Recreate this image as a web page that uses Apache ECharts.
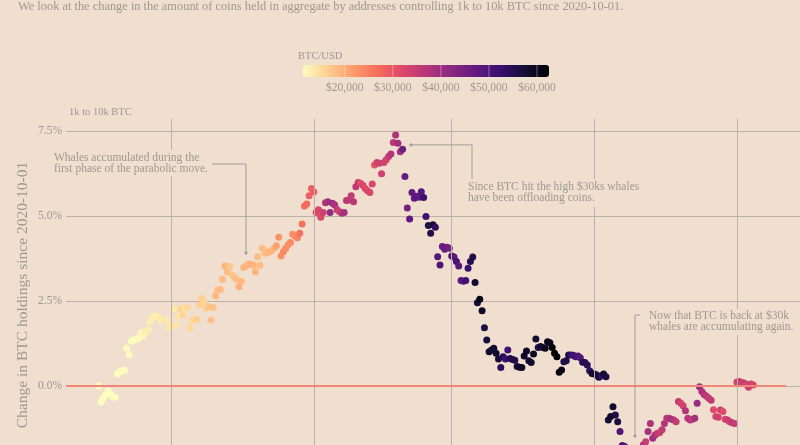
<!DOCTYPE html>
<html>
<head>
<meta charset="utf-8">
<script src="https://cdn.jsdelivr.net/npm/echarts@6/dist/echarts.min.js"></script>
<style>
html,body{margin:0;padding:0;background:#f0dfcf;}
#c{width:800px;height:445px;}
</style>
</head>
<body>
<div id="c"></div>
<script>
// ---- data (one value per day starting 2020-10-01) ----
const startDate = '2020-10-01';
// change in BTC held by 1k-10k BTC addresses, % since 2020-10-01
const holdings = [
 0.00,-0.47,-0.35,-0.26,-0.15,-0.22,-0.31,-0.33, 0.35, 0.42, 0.45, 0.46, 1.11, 0.92, 1.32, 1.35, 1.37, 1.40, 1.55, 1.47,
 1.59, 1.65, 1.89, 2.02, 2.05, 2.06, 1.99, 1.95, 1.94, 1.94, 1.73, 1.74, 2.27, 1.79, 2.06, 2.27, 2.09, 2.27, 2.31, 1.71,
 1.94, 1.95, 1.96, 2.38, 2.58, 2.48, 2.29, 2.33, 1.94, 2.31, 2.65, 2.82, 2.84, 3.14, 3.53, 3.36, 3.51, 3.26, 3.20, 3.12,
 2.92, 3.07, 3.48, 3.53, 3.59, 3.58, 3.56, 3.36, 3.80, 3.55, 4.05, 3.90, 3.92, 3.95, 3.98, 4.05, 4.12, 4.37, 3.82, 3.95,
 4.05, 4.15, 4.22, 4.46, 4.41, 4.36, 4.49, 4.76, 5.29, 5.35, 5.59, 5.81, 5.71, 5.10, 5.18, 4.96, 5.10, 5.39, 5.42, 5.10,
 5.37, 5.32, 5.18, 5.12, 5.08, 5.10, 5.45, 5.47, 5.59, 5.42, 5.86, 5.98, 5.96, 5.90, 5.81, 5.74, 5.69, 5.94, 6.50, 6.57,
 6.55, 6.24, 6.57, 6.65, 6.75, 6.82, 7.16, 7.38, 7.14, 6.89, 6.96, 6.16, 5.23, 4.91, 5.69, 5.52, 5.58, 5.55, 5.71, 5.54,
 4.98, 4.72, 4.49, 4.74, 4.67, 3.80, 3.56, 4.10, 4.02, 4.08, 4.05, 3.82, 3.79, 3.66, 3.53, 3.10, 3.08, 3.10, 3.46, 3.66,
 3.79, 3.04, 2.45, 2.55, 2.21, 1.71, 1.35, 1.01, 1.06, 1.11, 0.96, 0.79, 0.54, 0.86, 0.79, 1.06, 0.81, 0.78, 0.76, 0.57,
 0.55, 0.54, 0.88, 1.03, 0.74, 0.69, 0.94, 1.38, 1.13, 1.16, 1.13, 1.11, 1.30, 1.27, 1.13, 0.96, 0.86, 0.40, 0.47, 0.71,
 0.74, 0.91, 0.91, 0.90, 0.86, 0.88, 0.83, 0.70, 0.69, 0.62, 0.45, 0.37, 0.35, 0.32, 0.26, 0.30, 0.35, 0.27,-1.00,-0.90,
-0.61,-0.85,-1.05,-1.34,-1.75,-1.78,-1.85,-1.90,-1.95,-2.00,-1.95,-1.90,-1.85,-1.73,-1.64,-1.34,-1.10,-1.54,-1.44,-1.39,
-1.37,-1.29,-1.10,-0.95,-0.95,-0.98,-1.00,-1.05,-0.46,-0.51,-0.58,-0.73,-0.95,-1.00,-0.98,-0.95,-0.51,-0.02,-0.16,-0.25,
-0.30,-0.36,-0.42,-0.70,-0.90,-0.92,-0.71,-0.75,-0.98,-1.00,-1.05,-1.08,-1.10, 0.12, 0.13, 0.10, 0.09, 0.05,-0.04, 0.06,
 0.03
];
// BTC/USD close, thousands of dollars, same days
const btcPrice = [
 10.6,10.6,10.55,10.65,10.8,10.6,10.7,10.9,11.05,11.3,11.38,11.55,11.43,11.43,11.5,11.32,11.37,11.5,11.75,11.92,12.82,12.97,13.0,13.13,13.03,13.07,13.65,13.27,13.46,13.56,13.8,
 13.74,13.55,14.03,14.13,15.58,15.57,14.83,15.48,15.33,15.3,15.7,16.28,16.32,16.07,15.96,16.73,17.65,17.78,17.82,18.68,18.7,18.42,18.36,19.16,18.72,17.15,17.14,17.72,18.18,19.63,
 18.8,19.2,19.45,18.7,19.15,19.36,19.17,18.32,18.55,18.26,18.06,18.8,19.14,19.25,19.44,21.31,22.8,23.14,23.87,23.48,22.74,23.82,23.46,23.73,24.66,26.44,26.28,27.08,27.36,28.84,29.0,
 29.37,32.13,32.78,31.97,33.99,36.82,39.37,40.8,40.25,38.36,35.57,33.92,37.32,39.19,36.83,36.02,35.79,36.63,35.89,35.47,30.83,33.0,32.07,32.29,32.37,32.57,30.43,33.47,34.32,34.27,33.11,
 33.52,35.51,37.47,36.93,38.14,39.27,38.9,46.2,46.48,44.92,47.91,47.5,47.27,48.58,47.91,49.2,52.15,51.68,55.89,55.89,57.41,54.09,48.89,49.7,47.09,46.34,46.19,45.14,
 49.63,48.38,50.54,48.56,48.93,48.91,51.21,52.38,54.88,55.96,57.75,57.23,61.19,59.0,55.66,56.9,58.91,57.65,58.03,58.1,57.35,54.1,54.34,52.3,51.29,55.03,55.85,55.78,57.63,58.73,58.92,
 59.0,59.12,57.06,58.2,59.13,57.99,56.0,58.09,58.09,59.77,59.79,59.97,63.5,63.1,63.3,61.57,60.0,56.15,55.7,56.5,53.8,51.7,51.1,50.1,49.0,54.0,55.0,54.8,53.6,57.7,
 57.8,56.6,57.2,53.2,57.5,56.4,57.4,58.9,58.3,55.8,56.7,49.2,49.7,49.9,46.8,46.4,43.6,42.9,37.0,40.8,37.3,37.5,34.8,38.8,38.4,39.3,38.5,35.7,34.6,35.7,37.3,
 36.7,37.6,39.2,36.9,35.5,35.8,33.6,33.4,37.4,36.7,37.3,35.6,39.1,40.5,40.2,38.3,38.1,35.8,35.5,35.6,31.7,32.5,33.7,34.7,31.6,32.2,34.6,34.5,35.9,35.0,
 33.5,33.8,34.7,35.3,33.9,34.2,33.9,32.9
];
// vertical guides: day offsets of 2020-11-01, 2021-01-01, 2021-03-01, 2021-05-01, 2021-07-01
const monthTicks = [31, 92, 151, 212, 273];
const yTickStep = 2.5;
const colorbarTicks = [20000, 30000, 40000, 50000, 60000];
const colorbarRange = [11250, 62500];
const zeroLineEnd = 294;
const annotationTexts = [
  ['Whales accumulated during the', 'first phase of the parabolic move.'],
  ['Since BTC hit the high $30ks whales', 'have been offloading coins.'],
  ['Now that BTC is back at $30k', 'whales are accumulating again.']
];
const annotationAnchors = [[63, 3.91], [133.6, 7.09], [229.4, -1.47]];

// ---- styling ----
const BG = '#f0dfcf';
const TXT = '#9d9892';
const GRID = '#bbb1a8';
const FONT = "'Liberation Serif', 'DejaVu Serif', serif";
const magmaR = ['#fcfdbf','#fecf92','#fe9f6d','#f7705c','#de4968','#b73779','#8c2981','#641a80','#3b0f70','#140e36','#000004'];

const points = holdings.map((v, i) => [i, v, btcPrice[i] * 1000]);

const chart = echarts.init(document.getElementById('c'), null, {renderer: 'canvas'});
const option = {
  backgroundColor: BG,
  animation: false,
  grid: [
    {left: 66, width: 734, top: 119, height: 352, outerBoundsMode: 'none', containLabel: false},
    {left: 302.7, width: 246.3, top: 65, height: 12, outerBoundsMode: 'none', containLabel: false}
  ],
  xAxis: [
    {gridIndex: 0, type: 'value', min: -14, max: 300, show: false},
    {gridIndex: 1, type: 'value', min: colorbarRange[0], max: colorbarRange[1], interval: 1250,
     axisLine: {show: false}, axisTick: {show: false}, splitLine: {show: false},
     axisLabel: {margin: 5, color: TXT, fontFamily: FONT, fontSize: 11.5,
       formatter: v => colorbarTicks.includes(v) ? '$' + v.toLocaleString('en-US') : ''}}
  ],
  yAxis: [
    {gridIndex: 0, type: 'value', min: -2.5, max: 7.85, interval: yTickStep,
     axisLine: {show: false}, axisTick: {show: false},
     splitLine: {show: true, showMinLine: false, showMaxLine: false, lineStyle: {color: GRID, width: 1}},
     axisLabel: {margin: 4, color: TXT, fontFamily: FONT, fontSize: 11.5, showMaxLabel: false,
       formatter: v => v.toFixed(1) + '%'},
     name: 'Change in BTC holdings since 2020-10-01', nameLocation: 'middle', nameRotate: 90,
     nameGap: 35, nameMoveOverlap: false,
     nameTextStyle: {color: TXT, fontFamily: FONT, fontSize: 15.5}},
    {gridIndex: 1, type: 'value', min: 0, max: 1, show: false}
  ],
  visualMap: {
    type: 'continuous', seriesIndex: 1, dimension: 2,
    min: colorbarRange[0], max: colorbarRange[1],
    orient: 'horizontal', left: 302.7, top: 65, itemWidth: 12, itemHeight: 246.3,
    padding: 0, calculable: false, hoverLink: false,
    inRange: {color: magmaR}
  },
  series: [
    {type: 'scatter', xAxisIndex: 0, yAxisIndex: 0, data: [], z: 1, silent: true,
     markLine: {silent: true, symbol: ['none', 'none'], label: {show: false}, animation: false,
       data: monthTicks.map(d => ({xAxis: d, lineStyle: {color: GRID, width: 1, type: 'solid'}}))
         .concat([[{coord: [-14, 0], lineStyle: {color: '#f08676', width: 2, type: 'solid'}}, {coord: [zeroLineEnd, 0]}]])}},
    {type: 'scatter', xAxisIndex: 0, yAxisIndex: 0, data: points, symbolSize: 7, z: 3,
     itemStyle: {opacity: 1}},
    {type: 'scatter', xAxisIndex: 1, yAxisIndex: 1, data: colorbarTicks.map(v => [v, 0.5]),
     symbol: 'rect', symbolSize: [1, 12], z: 10, silent: true,
     itemStyle: {color: 'rgba(255,255,255,0.45)'}}
  ]
};
chart.setOption(option);

// ---- annotations & labels ----
const P = p => chart.convertToPixel({gridIndex: 0}, p);
const txt = (s, x, y, size, align) => ({type: 'text', z: 50, x: x, y: y, silent: true,
  style: {text: s, font: size + 'px ' + FONT, fill: TXT, textAlign: align || 'left', textVerticalAlign: 'middle'}});
const box = (x, y, w, h) => ({type: 'rect', z: 40, silent: true, shape: {x: x, y: y, width: w, height: h}, style: {fill: BG}});
const line = (pts) => ({type: 'polyline', z: 45, silent: true, shape: {points: pts}, style: {stroke: '#a39d97', lineWidth: 1, fill: null}});
const dot = (p) => ({type: 'circle', z: 45, silent: true, shape: {cx: p[0], cy: p[1], r: 1.6}, style: {fill: '#a39d97'}});

const a1 = P(annotationAnchors[0]), a2 = P(annotationAnchors[1]), a3 = P(annotationAnchors[2]);
const g = [
  txt('We look at the change in the amount of coins held in aggregate by addresses controlling 1k to 10k BTC since 2020-10-01.', 18, 7, 12.4),
  txt('BTC/USD', 298, 56, 10.5),
  txt('1k to 10k BTC', 69, 112, 10.5),
  // annotation 1
  box(50, 150, 162, 26),
  txt(annotationTexts[0][0], 54, 158, 11.5), txt(annotationTexts[0][1], 54, 169, 11.5),
  line([[212, 164], [a1[0], 164], [a1[0], a1[1]]]), dot(a1),
  // annotation 2
  box(464, 179, 178, 28),
  txt(annotationTexts[1][0], 468, 187, 11.5), txt(annotationTexts[1][1], 468, 198, 11.5),
  line([[a2[0], a2[1]], [472, a2[1]], [472, 179]]), dot(a2),
  // annotation 3
  box(645, 309, 155, 26),
  txt(annotationTexts[2][0], 649, 316, 11.5), txt(annotationTexts[2][1], 649, 327, 11.5),
  line([[640, 315], [a3[0], 315], [a3[0], a3[1]]]), dot(a3)
];
chart.setOption({graphic: {elements: g}});
</script>
</body>
</html>
